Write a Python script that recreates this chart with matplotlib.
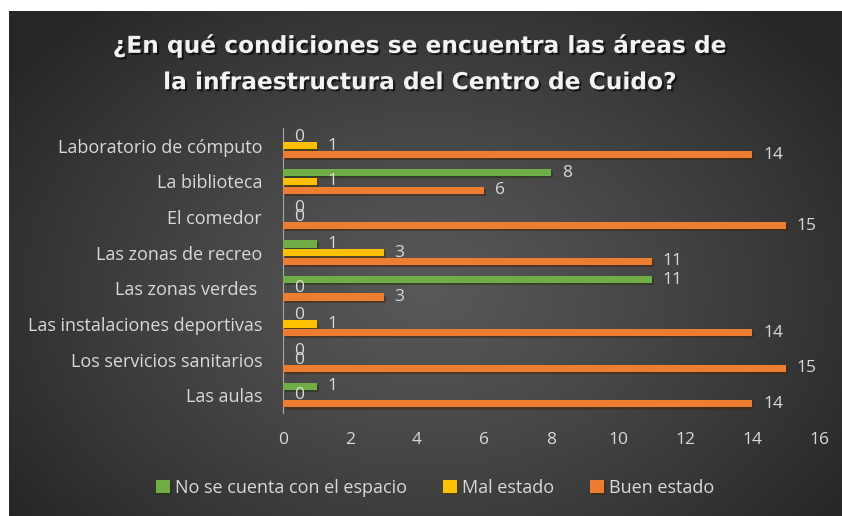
import numpy as np
import matplotlib
matplotlib.use("Agg")
import matplotlib.pyplot as plt
import matplotlib.patheffects as pe

categories = ["Laboratorio de cómputo", "La biblioteca", "El comedor",
              "Las zonas de recreo", "Las zonas verdes ",
              "Las instalaciones deportivas", "Los servicios sanitarios", "Las aulas"]
no_espacio = [0, 8, 0, 1, 11, 0, 0, 1]
mal_estado = [1, 1, 0, 3, 0, 1, 0, 0]
buen_estado = [14, 6, 15, 11, 3, 14, 15, 14]
series_names = ["No se cuenta con el espacio", "Mal estado", "Buen estado"]
colors = ["#70AD47", "#FFC000", "#ED7D31"]
xticks = [0, 2, 4, 6, 8, 10, 12, 14, 16]
title = "¿En qué condiciones se encuentra las áreas de\nla infraestructura del Centro de Cuido?"

W, H = 842, 516
fig = plt.figure(figsize=(W / 100, H / 100), dpi=100, facecolor="white")

# background radial gradient
bg = fig.add_axes([9 / W, 0, 1 - 9 / W, 1 - 11 / H])
bg.set_axis_off()
ny, nx = 300, 500
yy, xx = np.mgrid[0:ny, 0:nx]
cx, cy = nx * 0.5, ny * 0.55
r = np.sqrt(((xx - cx) / (nx * 0.62)) ** 2 + ((yy - cy) / (ny * 0.75)) ** 2)
r = np.clip(r, 0, 1)
c0, c1 = 0x58 / 255, 0x26 / 255
img = c0 + (c1 - c0) * r ** 1.2
rgb = np.dstack([img, img, img])
bg.imshow(rgb, aspect="auto", extent=[0, 1, 0, 1])

font = "Open Sans"
txtc = "#D9D9D9"

fig.text(0.5, 1 - 64 / H, title, ha="center", va="center", color="#F2F2F2",
         fontsize=16.8, fontweight="bold", family="DejaVu Sans", linespacing=1.74,
         path_effects=[pe.withSimplePatchShadow(offset=(1.5, -1.5), shadow_rgbFace="black", alpha=0.6)])

ax = fig.add_axes([283 / W, 1 - 413 / H, (819 - 283) / W, (413 - 128) / H])
ax.set_facecolor("none")
y = np.arange(len(categories))
step = 0.245
h = 0.2
shadow = [pe.SimplePatchShadow(offset=(1.5, -1.5), alpha=0.55), pe.Normal()]
for k, (vals, c, name) in enumerate(zip([no_espacio, mal_estado, buen_estado], colors, series_names)):
    pos = y + (k - 1) * step
    bars = ax.barh(pos, vals, height=h, color=c, label=name, zorder=3)
    for b in bars:
        b.set_path_effects(shadow)
    for p, v in zip(pos, vals):
        ax.annotate(str(v), (v, p), xytext=(11, 0), textcoords="offset pixels",
                    ha="left", va="center", color=txtc, fontsize=12.5, family=font)

ax.set_xlim(0, 16)
ax.set_ylim(len(categories) - 0.5, -0.5)
ax.set_xticks(xticks)
ax.set_xticklabels([str(t) for t in xticks], color=txtc, fontsize=12.5, family=font)
ax.set_yticks(y)
ax.set_yticklabels(categories, color=txtc, fontsize=13, family=font)
ax.tick_params(axis="x", length=0, pad=14)
ax.tick_params(axis="y", length=0, pad=15)
for s in ["top", "right", "bottom"]:
    ax.spines[s].set_visible(False)
ax.spines["left"].set_color("#A6A6A6")
ax.spines["left"].set_linewidth(0.8)

leg = fig.legend(*ax.get_legend_handles_labels(), loc="center", bbox_to_anchor=(0.517, 1 - 488 / H),
                 ncol=3, frameon=False, handlelength=0.75, handleheight=0.75, handletextpad=0.3,
                 columnspacing=2.0, prop={"family": font, "size": 13})
for t in leg.get_texts():
    t.set_color(txtc)

fig.savefig("out.png", dpi=100, facecolor="white")
